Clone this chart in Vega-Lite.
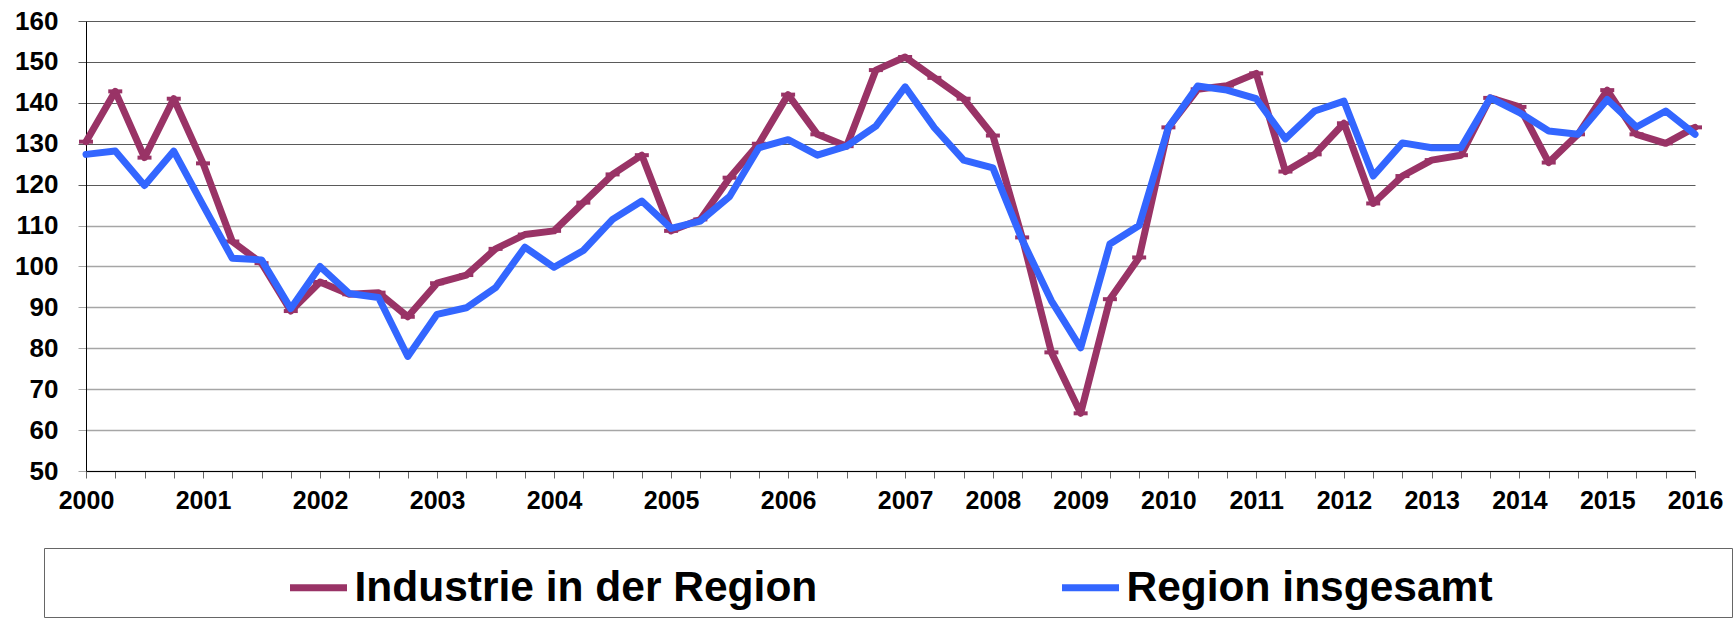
{
  "$schema": "https://vega.github.io/schema/vega-lite/v6.json",
  "width": 1609,
  "height": 450,
  "autosize": {"type": "none"},
  "padding": {"left": 86, "top": 21, "right": 38, "bottom": 147},
  "background": "white",
  "config": {"view": {"stroke": null}, "font": "Liberation Sans"},
  "data": {"values": [
    {"period": "2000", "series": "Industrie in der Region", "value": 130.5},
    {"period": "2000 Q2", "series": "Industrie in der Region", "value": 142.8},
    {"period": "2000 Q3", "series": "Industrie in der Region", "value": 126.6},
    {"period": "2000 Q4", "series": "Industrie in der Region", "value": 141.0},
    {"period": "2001", "series": "Industrie in der Region", "value": 125.2},
    {"period": "2001 Q2", "series": "Industrie in der Region", "value": 106.1},
    {"period": "2001 Q3", "series": "Industrie in der Region", "value": 100.8},
    {"period": "2001 Q4", "series": "Industrie in der Region", "value": 89.1},
    {"period": "2002", "series": "Industrie in der Region", "value": 96.2},
    {"period": "2002 Q2", "series": "Industrie in der Region", "value": 93.2},
    {"period": "2002 Q3", "series": "Industrie in der Region", "value": 93.6},
    {"period": "2002 Q4", "series": "Industrie in der Region", "value": 87.7},
    {"period": "2003", "series": "Industrie in der Region", "value": 95.9},
    {"period": "2003 Q2", "series": "Industrie in der Region", "value": 97.9},
    {"period": "2003 Q3", "series": "Industrie in der Region", "value": 104.3},
    {"period": "2003 Q4", "series": "Industrie in der Region", "value": 107.8},
    {"period": "2004", "series": "Industrie in der Region", "value": 108.7},
    {"period": "2004 Q2", "series": "Industrie in der Region", "value": 115.6},
    {"period": "2004 Q3", "series": "Industrie in der Region", "value": 122.5},
    {"period": "2004 Q4", "series": "Industrie in der Region", "value": 127.2},
    {"period": "2005", "series": "Industrie in der Region", "value": 108.7},
    {"period": "2005 Q2", "series": "Industrie in der Region", "value": 111.5},
    {"period": "2005 Q3", "series": "Industrie in der Region", "value": 121.7},
    {"period": "2005 Q4", "series": "Industrie in der Region", "value": 130.0},
    {"period": "2006", "series": "Industrie in der Region", "value": 142.0},
    {"period": "2006 Q2", "series": "Industrie in der Region", "value": 132.3},
    {"period": "2006 Q3", "series": "Industrie in der Region", "value": 129.4},
    {"period": "2006 Q4", "series": "Industrie in der Region", "value": 148.0},
    {"period": "2007", "series": "Industrie in der Region", "value": 151.2},
    {"period": "2007 Q2", "series": "Industrie in der Region", "value": 146.1},
    {"period": "2007 Q3", "series": "Industrie in der Region", "value": 141.0},
    {"period": "2008", "series": "Industrie in der Region", "value": 132.0},
    {"period": "2008 Q2", "series": "Industrie in der Region", "value": 107.1},
    {"period": "2008 Q3", "series": "Industrie in der Region", "value": 79.0},
    {"period": "2009", "series": "Industrie in der Region", "value": 64.1},
    {"period": "2009 Q2", "series": "Industrie in der Region", "value": 92.0},
    {"period": "2009 Q3", "series": "Industrie in der Region", "value": 102.2},
    {"period": "2010", "series": "Industrie in der Region", "value": 134.0},
    {"period": "2010 Q2", "series": "Industrie in der Region", "value": 143.3},
    {"period": "2010 Q3", "series": "Industrie in der Region", "value": 144.2},
    {"period": "2011", "series": "Industrie in der Region", "value": 147.2},
    {"period": "2011 Q2", "series": "Industrie in der Region", "value": 123.2},
    {"period": "2011 Q3", "series": "Industrie in der Region", "value": 127.4},
    {"period": "2012", "series": "Industrie in der Region", "value": 135.0},
    {"period": "2012 Q2", "series": "Industrie in der Region", "value": 115.4},
    {"period": "2012 Q3", "series": "Industrie in der Region", "value": 122.1},
    {"period": "2013", "series": "Industrie in der Region", "value": 126.0},
    {"period": "2013 Q2", "series": "Industrie in der Region", "value": 127.2},
    {"period": "2013 Q3", "series": "Industrie in der Region", "value": 141.2},
    {"period": "2014", "series": "Industrie in der Region", "value": 139.0},
    {"period": "2014 Q2", "series": "Industrie in der Region", "value": 125.4},
    {"period": "2014 Q3", "series": "Industrie in der Region", "value": 132.3},
    {"period": "2015", "series": "Industrie in der Region", "value": 143.1},
    {"period": "2015 Q2", "series": "Industrie in der Region", "value": 132.3},
    {"period": "2015 Q3", "series": "Industrie in der Region", "value": 130.1},
    {"period": "2016", "series": "Industrie in der Region", "value": 134.0},
    {"period": "2000", "series": "Region insgesamt", "value": 127.4},
    {"period": "2000 Q2", "series": "Region insgesamt", "value": 128.2},
    {"period": "2000 Q3", "series": "Region insgesamt", "value": 119.8},
    {"period": "2000 Q4", "series": "Region insgesamt", "value": 128.2},
    {"period": "2001", "series": "Region insgesamt", "value": 115.0},
    {"period": "2001 Q2", "series": "Region insgesamt", "value": 102.0},
    {"period": "2001 Q3", "series": "Region insgesamt", "value": 101.6},
    {"period": "2001 Q4", "series": "Region insgesamt", "value": 89.7},
    {"period": "2002", "series": "Region insgesamt", "value": 100.0},
    {"period": "2002 Q2", "series": "Region insgesamt", "value": 93.4},
    {"period": "2002 Q3", "series": "Region insgesamt", "value": 92.4},
    {"period": "2002 Q4", "series": "Region insgesamt", "value": 78.0},
    {"period": "2003", "series": "Region insgesamt", "value": 88.3},
    {"period": "2003 Q2", "series": "Region insgesamt", "value": 89.9},
    {"period": "2003 Q3", "series": "Region insgesamt", "value": 94.8},
    {"period": "2003 Q4", "series": "Region insgesamt", "value": 104.7},
    {"period": "2004", "series": "Region insgesamt", "value": 99.8},
    {"period": "2004 Q2", "series": "Region insgesamt", "value": 103.9},
    {"period": "2004 Q3", "series": "Region insgesamt", "value": 111.5},
    {"period": "2004 Q4", "series": "Region insgesamt", "value": 116.0},
    {"period": "2005", "series": "Region insgesamt", "value": 109.3},
    {"period": "2005 Q2", "series": "Region insgesamt", "value": 111.1},
    {"period": "2005 Q3", "series": "Region insgesamt", "value": 117.1},
    {"period": "2005 Q4", "series": "Region insgesamt", "value": 129.0},
    {"period": "2006", "series": "Region insgesamt", "value": 131.0},
    {"period": "2006 Q2", "series": "Region insgesamt", "value": 127.2},
    {"period": "2006 Q3", "series": "Region insgesamt", "value": 129.4},
    {"period": "2006 Q4", "series": "Region insgesamt", "value": 134.3},
    {"period": "2007", "series": "Region insgesamt", "value": 143.9},
    {"period": "2007 Q2", "series": "Region insgesamt", "value": 133.9},
    {"period": "2007 Q3", "series": "Region insgesamt", "value": 126.0},
    {"period": "2008", "series": "Region insgesamt", "value": 124.1},
    {"period": "2008 Q2", "series": "Region insgesamt", "value": 106.5},
    {"period": "2008 Q3", "series": "Region insgesamt", "value": 91.6},
    {"period": "2009", "series": "Region insgesamt", "value": 80.1},
    {"period": "2009 Q2", "series": "Region insgesamt", "value": 105.5},
    {"period": "2009 Q3", "series": "Region insgesamt", "value": 110.0},
    {"period": "2010", "series": "Region insgesamt", "value": 134.0},
    {"period": "2010 Q2", "series": "Region insgesamt", "value": 144.1},
    {"period": "2010 Q3", "series": "Region insgesamt", "value": 143.1},
    {"period": "2011", "series": "Region insgesamt", "value": 141.0},
    {"period": "2011 Q2", "series": "Region insgesamt", "value": 131.2},
    {"period": "2011 Q3", "series": "Region insgesamt", "value": 138.0},
    {"period": "2012", "series": "Region insgesamt", "value": 140.4},
    {"period": "2012 Q2", "series": "Region insgesamt", "value": 122.1},
    {"period": "2012 Q3", "series": "Region insgesamt", "value": 130.2},
    {"period": "2013", "series": "Region insgesamt", "value": 129.0},
    {"period": "2013 Q2", "series": "Region insgesamt", "value": 129.0},
    {"period": "2013 Q3", "series": "Region insgesamt", "value": 141.2},
    {"period": "2014", "series": "Region insgesamt", "value": 137.6},
    {"period": "2014 Q2", "series": "Region insgesamt", "value": 133.1},
    {"period": "2014 Q3", "series": "Region insgesamt", "value": 132.3},
    {"period": "2015", "series": "Region insgesamt", "value": 140.8},
    {"period": "2015 Q2", "series": "Region insgesamt", "value": 134.1},
    {"period": "2015 Q3", "series": "Region insgesamt", "value": 138.0},
    {"period": "2016", "series": "Region insgesamt", "value": 132.3}
  ]},
  "encoding": {
    "x": {
      "field": "period", "type": "ordinal", "sort": null,
      "scale": {"type": "point", "padding": 0},
      "axis": {
        "title": null, "labelAngle": 0, "labelOverlap": false,
        "labelExpr": "indexof(datum.value, 'Q') < 0 ? datum.value : ''",
        "labelFont": "Liberation Sans", "labelFontSize": 25, "labelFontWeight": "bold", "labelColor": "black",
        "labelPadding": 10, "tickSize": 7, "tickColor": "#666666", "domainColor": "black", "domainWidth": 1, "grid": false
      }
    },
    "y": {
      "field": "value", "type": "quantitative",
      "scale": {"domain": [50, 160], "nice": false, "zero": false},
      "axis": {
        "title": null, "values": [50, 60, 70, 80, 90, 100, 110, 120, 130, 140, 150, 160],
        "labelFont": "Liberation Sans", "labelFontSize": 26, "labelFontWeight": "bold", "labelColor": "black",
        "labelPadding": 20, "tickSize": 8,
        "tickColor": {"condition": {"test": "datum.value >= 120", "value": "#5a5a5a"}, "value": "#a6a6a6"},
        "gridColor": {"condition": {"test": "datum.value >= 120", "value": "#5a5a5a"}, "value": "#a6a6a6"},
        "gridWidth": {"condition": {"test": "datum.value >= 120", "value": 1}, "value": 1.5},
        "gridOpacity": 1,
        "domainColor": "black", "domainWidth": 1, "grid": true
      }
    }
  },
  "layer": [
    {
      "transform": [{"filter": "datum.series == 'Industrie in der Region'"}],
      "mark": {"type": "line", "strokeWidth": 7, "strokeJoin": "round", "strokeCap": "round"},
      "encoding": {
        "color": {
          "field": "series", "type": "nominal",
          "scale": {"domain": ["Industrie in der Region", "Region insgesamt"], "range": ["#993366", "#3366FF"]},
          "legend": {
            "orient": "none", "legendX": -42, "legendY": 527, "direction": "horizontal",
            "title": "\u2800", "titleOrient": "right", "titleFontSize": 10, "titlePadding": 224, "titleFont": "DejaVu Sans",
            "symbolType": "stroke", "symbolSize": 3249, "symbolStrokeWidth": 7, "symbolOffset": 235,
            "labelFont": "Liberation Sans", "labelFontSize": 42.5, "labelFontWeight": "bold", "labelColor": "black",
            "labelLimit": 0, "labelOffset": 4, "columnPadding": 6, "padding": 7.5,
            "strokeColor": "#666666"
          }
        }
      }
    },
    {
      "transform": [{"filter": "datum.series == 'Industrie in der Region'"}],
      "mark": {"type": "point", "shape": "stroke", "size": 196, "strokeWidth": 4, "color": "#993366", "filled": false, "opacity": 1},
      "encoding": {}
    },
    {
      "transform": [{"filter": "datum.series == 'Region insgesamt'"}],
      "mark": {"type": "line", "strokeWidth": 7, "strokeJoin": "round", "strokeCap": "round"},
      "encoding": {
        "color": {"field": "series", "type": "nominal"}
      }
    }
  ]
}
